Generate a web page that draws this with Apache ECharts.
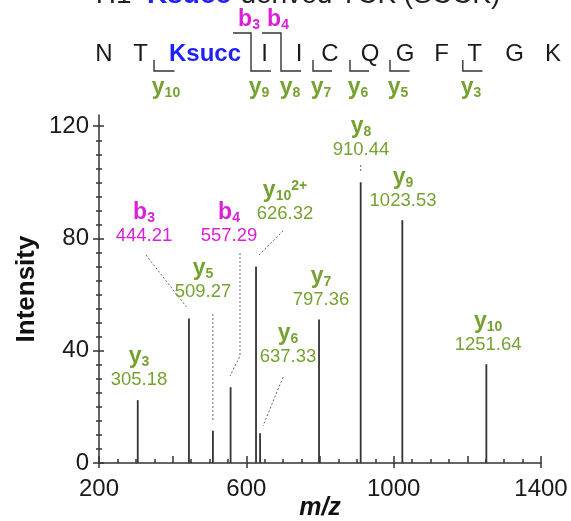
<!DOCTYPE html>
<html><head><meta charset="utf-8">
<script src="https://cdn.jsdelivr.net/npm/echarts@6/dist/echarts.min.js"></script>
<style>html,body{margin:0;padding:0;background:#fff}#c{width:571px;height:521px}</style>
</head><body><div id="c"></div>
<script>
// ---------- data ----------
const ionSeries = ['y','b','y','b','y','y','y','y','y','y'];
const ionNumber = ['3','3','5','4','10','6','7','8','9','10'];
const ionCharge = ['','','','','2+','','','','',''];
const peakMz = [305.18, 444.21, 509.27, 557.29, 626.32, 637.33, 797.36, 910.44, 1023.53, 1251.64];
const peakIntensity = [22.4, 51.5, 11.5, 27, 70, 10.6, 51.1, 100, 86.5, 35.2];
const xTicks = [200, 600, 1000, 1400];
const yTicks = [0, 40, 80, 120];
const sequence = ['N','T','Ksucc','I','I','C','Q','G','F','T','G','K'];

// ---------- layout (annotation placement, in data units) ----------
const labelAt = [[308.6,29.6],[322.2,80.9],[482.4,60.9],[553,80.9],[705,88.7],[713.2,37.8],[802.8,58.1],[911.4,111.5],[1025.4,93.4],[1256.3,42.1]];
const leaders = [
  [[327.6,74.1],[441.6,54.9]],
  [[509.27,53.1],[509.27,15.3]],
  [[582.8,74.8],[582.8,38.1],[555.7,31.0]],
  [[699.6,82.7],[631.7,73.8]],
  [[699.6,30.6],[645.3,13.2]],
  [[910.44,106.2],[910.44,103.4]]
];
const seqX = [104,140.5,205,264.6,299,330,370,405,441.6,474.5,514.6,553];

const F = '"Liberation Sans", Arial, sans-serif';
const GRN = '#76a232', MAG = '#d91fd9', BLUE = '#1f1fff', AX = '#333';
const yMinor = []; for (let v = 0; v <= 120; v += 5) yMinor.push(v);

const rich = {
  yn:{fontSize:23,fontWeight:'bold',fill:GRN,fontFamily:F,lineHeight:24},
  ys:{fontSize:14,fontWeight:'bold',fill:GRN,fontFamily:F,lineHeight:14,verticalAlign:'bottom'},
  yp:{fontSize:14,fontWeight:'bold',fill:GRN,fontFamily:F,lineHeight:14,verticalAlign:'top'},
  bn:{fontSize:23,fontWeight:'bold',fill:MAG,fontFamily:F,lineHeight:24},
  bs:{fontSize:14,fontWeight:'bold',fill:MAG,fontFamily:F,lineHeight:14,verticalAlign:'bottom'},
  k:{fontSize:28,fill:'#222',fontFamily:F,lineHeight:30},
  kb:{fontSize:28,fill:BLUE,fontWeight:'bold',fontFamily:F,lineHeight:30}
};
function ionText(k, n, c){ return '{'+k+'n|'+k+'}{'+k+'s|'+n+'}' + (c ? '{'+k+'p|'+c+'}' : ''); }

// ---------- header graphic (peptide sequence) ----------
const graphic = [];
graphic.push({type:'text', x:298, y:-5, style:{text:'{k|H1  }{kb|Ksucc}{k|-derived TCK (SCCK)}', rich, align:'center', verticalAlign:'middle'}});
sequence.forEach((s,i)=>{
  graphic.push({type:'text', x:seqX[i], y:54, style:{text:s, fill: s==='Ksucc'?BLUE:'#1a1a1a', fontSize:24, fontWeight: s==='Ksucc'?'bold':'normal', fontFamily:F, align:'center', verticalAlign:'middle'}});
});
const br = {stroke:'#333', lineWidth:1.4, fill:null};
[[154,174.5],[313,332],[350,369],[390,409.5],[462.8,482.5]].forEach(b=>{
  graphic.push({type:'polyline', shape:{points:[[b[0],60],[b[0],71],[b[1],71]]}, style:br});
});
graphic.push({type:'polyline', shape:{points:[[233,33],[251,33],[251,71],[271,71]]}, style:br});
graphic.push({type:'polyline', shape:{points:[[262,33],[281,33],[281,71],[301,71]]}, style:br});
[['b','3',249,20],['b','4',278,20],['y','10',166,88],['y','9',259,88],['y','8',290,88],['y','7',321,88],['y','6',358,88],['y','5',398,88],['y','3',471,88]].forEach(l=>{
  graphic.push({type:'text', x:l[2], y:l[3], style:{text:ionText(l[0],l[1],''), rich, align:'center', verticalAlign:'middle'}});
});

const tickLS = {color:AX, width:1.5};
const plain = v => String(v);
const chart = echarts.init(document.getElementById('c'), null, {renderer:'canvas'});
chart.setOption({
  animation:false,
  backgroundColor:'#fff',
  grid:{left:99, right:30, top:115, bottom:58, outerBoundsMode:'none', containLabel:false},
  xAxis:[
    {type:'value', min:200, max:1400, position:'bottom',
     axisLine:{show:true, lineStyle:{color:AX, width:1.5}},
     axisTick:{show:true, inside:false, length:5, customValues:xTicks, lineStyle:tickLS},
     axisLabel:{customValues:xTicks, formatter:plain, fontSize:24, color:'#1a1a1a', margin:14, fontFamily:F},
     splitLine:{show:false},
     name:'m/z', nameLocation:'middle', nameGap:33, nameMoveOverlap:false,
     nameTextStyle:{fontSize:25, fontStyle:'italic', fontWeight:'bold', color:'#111', fontFamily:F}},
    {type:'value', min:200, max:1400, interval:200, position:'bottom',
     axisLine:{show:false}, axisLabel:{show:false}, splitLine:{show:false},
     axisTick:{show:true, inside:true, length:7, lineStyle:tickLS},
     minorTick:{show:true, splitNumber:4, length:4, lineStyle:tickLS}}
  ],
  yAxis:[
    {type:'value', min:0, max:124, position:'left',
     axisLine:{show:true, lineStyle:{color:AX, width:1.5}},
     axisTick:{show:true, inside:false, length:6, customValues:yTicks, lineStyle:tickLS},
     axisLabel:{customValues:yTicks, formatter:plain, fontSize:24, color:'#1a1a1a', margin:10, fontFamily:F},
     splitLine:{show:false},
     name:'Intensity', nameLocation:'middle', nameGap:59, nameRotate:90, nameMoveOverlap:false,
     nameTextStyle:{fontSize:26, fontWeight:'bold', color:'#111', fontFamily:F}},
    {type:'value', min:0, max:124, position:'left', axisLine:{show:false}, axisLabel:{show:false}, splitLine:{show:false},
     axisTick:{show:true, inside:true, length:5, customValues:yTicks, lineStyle:tickLS}},
    {type:'value', min:0, max:124, position:'left', axisLine:{show:false}, axisLabel:{show:false}, splitLine:{show:false},
     axisTick:{show:true, inside:false, length:3, customValues:yMinor, lineStyle:tickLS}},
    {type:'value', min:0, max:124, position:'left', axisLine:{show:false}, axisLabel:{show:false}, splitLine:{show:false},
     axisTick:{show:true, inside:true, length:3, customValues:yMinor, lineStyle:tickLS}}
  ],
  graphic: graphic,
  series:[
    {type:'custom', name:'leaders', silent:true, clip:false,
     data: leaders.map((l,i)=>[l[0][0], l[0][1], i]),
     renderItem(params, api){
       const pts = leaders[params.dataIndex].map(q=>api.coord(q));
       return {type:'polyline', shape:{points:pts}, style:{stroke:'#666', lineWidth:1, lineDash:[2,2], fill:null}};
     }},
    {type:'custom', name:'peaks', silent:true,
     data: peakMz.map((m,i)=>[m, peakIntensity[i]]),
     renderItem(params, api){
       const x = api.value(0), y = api.value(1);
       const p0 = api.coord([x,0]), p1 = api.coord([x,y]);
       return {type:'line', shape:{x1:p0[0], y1:p0[1], x2:p1[0], y2:p1[1]}, style:{stroke:'#333', lineWidth:1.8}};
     }},
    {type:'custom', name:'labels', silent:true, clip:false,
     data: labelAt.map((p,i)=>[p[0], p[1], i]),
     renderItem(params, api){
       const i = params.dataIndex;
       const p = api.coord([api.value(0), api.value(1)]);
       const k = ionSeries[i];
       const c = k==='b' ? MAG : GRN;
       return {type:'group', children:[
         {type:'text', x:p[0], y:p[1]-23, style:{text:ionText(k, ionNumber[i], ionCharge[i]), rich, align:'center', verticalAlign:'middle'}},
         {type:'text', x:p[0], y:p[1], style:{text:peakMz[i].toFixed(2), fill:c, fontSize:18.5, fontFamily:F, align:'center', verticalAlign:'middle'}}
       ]};
     }}
  ]
});
</script></body></html>
